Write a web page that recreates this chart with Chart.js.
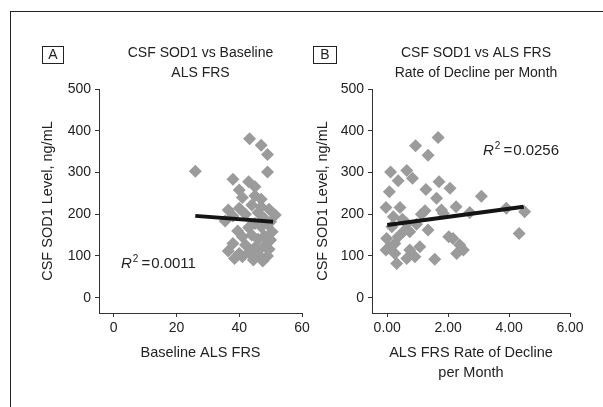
<!DOCTYPE html>
<html lang="en">
<head>
  <meta charset="UTF-8">
  <title>CSF SOD1 vs ALS FRS</title>
  <script src="https://cdn.jsdelivr.net/npm/chart.js@4"></script>
  <style>
    body { margin: 0; background: #fff; }
    #wrap { position: relative; width: 603px; height: 407px; overflow: hidden; }
    #frame { position: absolute; left: 10px; top: 11px; right: -10px; bottom: -10px;
             border-left: 1.5px solid #222; border-top: 1.5px solid #222; }
    canvas { position: absolute; left: 0; top: 0; }
  </style>
</head>
<body>

<div id="wrap">
  <div id="frame"></div>
  <canvas id="chartA" width="603" height="407"></canvas>
  <canvas id="chartB" width="603" height="407"></canvas>
</div>

<script>
  // Panel A: baseline ALS FRS vs CSF SOD1 (ng/mL)
  const frsBaseline = [26, 43.3, 47, 49, 49, 38, 43, 45, 40, 41, 45, 47, 36.5, 40, 44, 47, 49.5, 51.5,
    35.5, 38, 42, 46, 48, 50, 39.5, 43, 45, 47, 49, 50.5, 41, 44, 46, 48, 50, 38, 42, 45, 48, 49.5,
    36.5, 40, 43, 46, 49, 38.5, 41, 44.5, 47.5, 46];
  const sodA = [303, 381, 365, 343, 301, 284, 278, 266, 258, 240, 244, 236, 210, 214, 222, 218, 212, 198,
    184, 196, 200, 204, 190, 182, 160, 168, 178, 170, 176, 158, 146, 150, 140, 148, 138, 130, 126, 120, 124, 116,
    112, 106, 108, 104, 100, 94, 98, 90, 88, 112];
  const fitAX = [26, 50.8];
  const fitAY = [196, 182];

  // Panel B: ALS FRS rate of decline per month vs CSF SOD1
  const frsDecline = [1.67, 0.93, 1.34, 0.11, 0.64, 0.83, 0.36, 1.70, 2.06, 1.27, 0.07, 1.62, 3.09,
    -0.04, 0.42, 1.24, 1.78, 2.26, 1.84, 2.71, 3.91, 4.51, 4.33, 0.20, 0.64, 0.96, 0.50, 1.34, 0.74,
    -0.02, 0.36, 2.02, 2.16, 2.38, 2.50, 2.28, -0.04, 0.25, 0.25, 0.74, 1.07, 0.64, 0.91, 0.31, 1.56,
    1.12, 0.05, 0.55, 0.15];
  const sodB = [384, 364, 341, 301, 305, 286, 280, 278, 262, 259, 254, 238, 243,
    216, 216, 208, 210, 218, 202, 204, 214, 206, 154, 194, 178, 176, 188, 162, 158,
    142, 146, 146, 142, 126, 114, 106, 114, 130, 106, 114, 122, 94, 98, 82, 92,
    200, 120, 160, 170];
  const fitBX = [0, 4.48];
  const fitBY = [174, 218];

  const yTicks = [0, 100, 200, 300, 400, 500];
  const xTicksA = [0, 20, 40, 60];
  const xTicksB = [0, 2, 4, 6];

  const FONT = "'Liberation Sans', Arial, sans-serif";
  const INK = '#222';
  const MARK = '#9b9b9b';

  function pairs(xs, ys) {
    return xs.map((x, i) => ({ x: x, y: ys[i] }));
  }

  // draws the letter box, the two-line heading and the R2 note
  const panelText = {
    id: 'panelText',
    afterDraw(chart, args, o) {
      const ctx = chart.ctx;
      ctx.save();
      ctx.strokeStyle = INK;
      ctx.lineWidth = 1;
      ctx.strokeRect(o.box[0] + 0.5, o.box[1] + 0.5, o.box[2], o.box[3]);
      ctx.fillStyle = INK;
      ctx.textAlign = 'center';
      ctx.textBaseline = 'middle';
      ctx.font = '14px ' + FONT;
      ctx.fillText(o.letter, o.box[0] + o.box[2] / 2 + 0.5, o.box[1] + o.box[3] / 2 + 1);
      o.title.forEach((t, i) => ctx.fillText(t, o.titleX, o.titleY + i * 20));

      // R^2 = value
      let x = o.r2[0];
      const y = o.r2[1];
      ctx.textAlign = 'left';
      ctx.textBaseline = 'alphabetic';
      ctx.font = 'italic 15px ' + FONT;
      ctx.fillText('R', x, y);
      x += ctx.measureText('R').width + 1;
      ctx.font = '10px ' + FONT;
      ctx.fillText('2', x, y - 6);
      x += ctx.measureText('2').width + 3;
      ctx.font = '15px ' + FONT;
      ctx.fillText('=', x, y);
      x += ctx.measureText('=').width + 1;
      ctx.fillText(o.r2text, x, y);
      ctx.restore();
    }
  };

  function makePanel(id, cfg) {
    const ctx = document.getElementById(id).getContext('2d');
    const tickFont = { family: FONT, size: 14 };
    const titleFont = { family: FONT, size: 14.5, lineHeight: '20px' };

    return new Chart(ctx, {
      type: 'scatter',
      data: {
        datasets: [
          {
            type: 'line',
            data: pairs(cfg.fitX, cfg.fitY),
            borderColor: '#141414',
            borderWidth: 4,
            pointRadius: 0,
            fill: false
          },
          {
            data: pairs(cfg.xs, cfg.ys),
            pointStyle: 'rectRot',
            radius: 6.5,
            backgroundColor: MARK,
            borderWidth: 0
          }
        ]
      },
      options: {
        responsive: false,
        animation: false,
        events: [],
        layout: { padding: cfg.pad },
        plugins: {
          legend: { display: false },
          tooltip: { enabled: false },
          panelText: cfg.text
        },
        scales: {
          x: {
            type: 'linear',
            min: cfg.xMin,
            max: cfg.xMax,
            grid: { drawOnChartArea: false, drawTicks: true, tickLength: 4, color: '#333' },
            border: { display: true, color: '#333', width: 1 },
            ticks: {
              padding: 3, color: INK, font: tickFont, maxRotation: 0, autoSkip: false,
              callback: cfg.xLabel
            },
            afterBuildTicks: s => { s.ticks = cfg.xTicks.map(v => ({ value: v })); },
            afterFit: s => { s.height = 94; s.paddingLeft = 0; s.paddingRight = 0; },
            title: {
              display: true, text: cfg.xTitle, color: INK, font: titleFont,
              padding: { top: 0, bottom: cfg.xTitlePad }
            }
          },
          y: {
            type: 'linear',
            min: -36.7,
            max: 500,
            grid: { drawOnChartArea: false, drawTicks: true, tickLength: 4, color: '#333' },
            border: { display: true, color: '#333', width: 1 },
            ticks: { padding: 4, color: INK, font: tickFont },
            afterBuildTicks: s => { s.ticks = yTicks.map(v => ({ value: v })); },
            afterFit: s => { s.width = cfg.yWidth; s.paddingTop = 0; s.paddingBottom = 0; },
            title: {
              display: true, text: 'CSF SOD1 Level, ng/mL', color: INK,
              font: { family: FONT, size: 14.5, lineHeight: 1.2 },
              padding: { top: cfg.yTitlePad, bottom: 0 }
            }
          }
        }
      },
      plugins: [panelText]
    });
  }

  makePanel('chartA', {
    xs: frsBaseline, ys: sodA, fitX: fitAX, fitY: fitAY,
    xMin: -4.68, xMax: 60, xTicks: xTicksA,
    xLabel: v => String(v),
    xTitle: 'Baseline ALS FRS', xTitlePad: 44,
    pad: { left: 0, top: 89, right: 301, bottom: 0 },
    yWidth: 99, yTitlePad: 39,
    text: {
      letter: 'A', box: [42, 46, 21, 17],
      title: ['CSF SOD1 vs Baseline', 'ALS FRS'], titleX: 200.5, titleY: 53,
      r2: [121, 268], r2text: '0.0011'
    }
  });

  makePanel('chartB', {
    xs: frsDecline, ys: sodB, fitX: fitBX, fitY: fitBY,
    xMin: -0.5, xMax: 6, xTicks: xTicksB,
    xLabel: v => Number(v).toFixed(2),
    xTitle: ['ALS FRS Rate of Decline', 'per Month'], xTitlePad: 24,
    pad: { left: 300, top: 89, right: 33, bottom: 0 },
    yWidth: 72, yTitlePad: 14,
    text: {
      letter: 'B', box: [313, 46, 23, 17],
      title: ['CSF SOD1 vs ALS FRS', 'Rate of Decline per Month'], titleX: 476, titleY: 53,
      r2: [483, 155], r2text: '0.0256'
    }
  });
</script>

</body>
</html>
